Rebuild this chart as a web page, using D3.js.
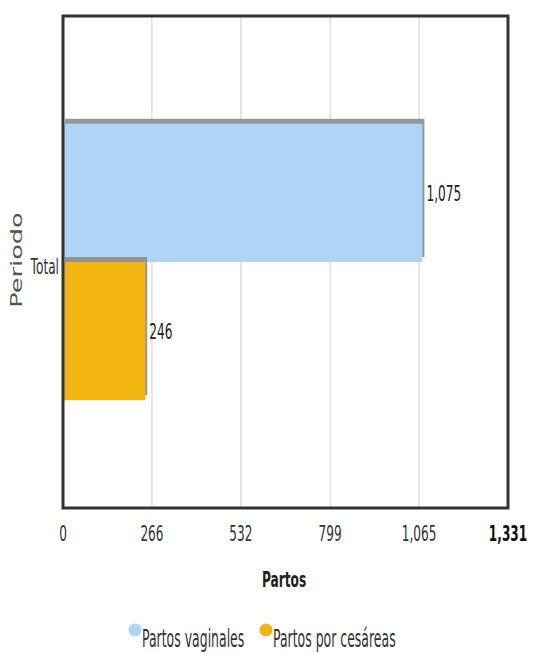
<!DOCTYPE html>
<html>
<head>
<meta charset="utf-8">
<script src="https://cdn.jsdelivr.net/npm/d3@7"></script>
<style>
body { margin: 0; background: #fff; }
text { font-family: "DejaVu Sans", sans-serif; }
</style>
</head>
<body>
<div id="chart"></div>
<script>
var categories = ["Total"];
var seriesNames = ["Partos vaginales", "Partos por cesáreas"];
var seriesColors = ["#aed4f6", "#f2b50f"];
var seriesValues = [[1075], [246]];
var tickValues = [0, 266, 532, 799, 1065, 1331];

var width = 533, height = 653;
var mLeft = 63, mRight = 508, mTop = 16, mBottom = 508;

var svg = d3.select("#chart").append("svg")
    .attr("width", width)
    .attr("height", height);

// condensed-looking text: draw at 0,0 and squeeze along x
function label(g, px, py, str, anchor, size, sx) {
  return g.append("text")
    .attr("transform", "translate(" + px + "," + py + ") scale(" + (sx || 0.58) + ",1)")
    .attr("text-anchor", anchor || "start")
    .text(str)
    .style("font-size", (size || 21) + "px")
    .style("fill", "#333");
}

var x = d3.scaleLinear().domain([0, 1331]).range([mLeft, mRight]);
var y = d3.scaleBand().domain(categories).range([mTop, mBottom]).paddingInner(0).paddingOuter(0.39);
var ySub = d3.scaleBand().domain(d3.range(seriesNames.length)).range([0, y.bandwidth()]);

// gridlines
svg.append("g").selectAll("line").data(tickValues.slice(1, -1))
  .enter().append("line")
  .attr("x1", function(d) { return x(d); })
  .attr("x2", function(d) { return x(d); })
  .attr("y1", mTop)
  .attr("y2", mBottom)
  .style("stroke", "#cfcfcf")
  .style("stroke-width", 1);

// bars
var bars = svg.append("g");
seriesNames.forEach(function(name, s) {
  categories.forEach(function(c, i) {
    var v = seriesValues[s][i];
    var by = y(c) + ySub(s);
    // shadow
    bars.append("rect")
      .attr("x", x(0) + 2)
      .attr("y", by - 5)
      .attr("width", x(v) - x(0))
      .attr("height", ySub.bandwidth())
      .style("fill", "#8c8c8c")
      .style("opacity", 0.9);
    bars.append("rect")
      .attr("x", x(0))
      .attr("y", by)
      .attr("width", x(v) - x(0))
      .attr("height", ySub.bandwidth())
      .style("fill", seriesColors[s]);
    label(bars, x(v) + 4, by + ySub.bandwidth() / 2 + 8, d3.format(",")(v))
      .style("fill", "#222");
  });
});

// frame
svg.append("rect")
  .attr("x", mLeft)
  .attr("y", mTop)
  .attr("width", mRight - mLeft)
  .attr("height", mBottom - mTop)
  .style("fill", "none")
  .style("stroke", "#333")
  .style("stroke-width", 3);

// x tick labels
var ticks = svg.append("g");
tickValues.forEach(function(d, i) {
  var t = label(ticks, x(d), 541, d3.format(",")(d), "middle", 22, 0.55);
  if (i == tickValues.length - 1) t.style("font-weight", "bold").style("fill", "#111");
});

// y category label
categories.forEach(function(c) {
  label(svg, mLeft - 4, y(c) + y.bandwidth() / 2 + 12, c, "end");
});

// axis titles
label(svg, 284, 587, "Partos", "middle", 21, 0.58)
  .style("font-weight", "bold")
  .style("fill", "#222");

svg.append("text")
  .attr("transform", "translate(22,260) rotate(-90) scale(1.6,1)")
  .attr("text-anchor", "middle")
  .text("Periodo")
  .style("font-size", "16px")
  .style("fill", "#555");

// legend
var legendX = [135, 266];
var legend = svg.append("g");
legend.selectAll("circle").data(seriesColors)
  .enter().append("circle")
  .attr("cx", function(d, i) { return legendX[i]; })
  .attr("cy", 630)
  .attr("r", 6.5)
  .style("fill", function(d) { return d; });
seriesNames.forEach(function(n, i) {
  label(legend, legendX[i] + 7, 647, n, "start", 24, 0.52);
});
</script>
</body>
</html>
